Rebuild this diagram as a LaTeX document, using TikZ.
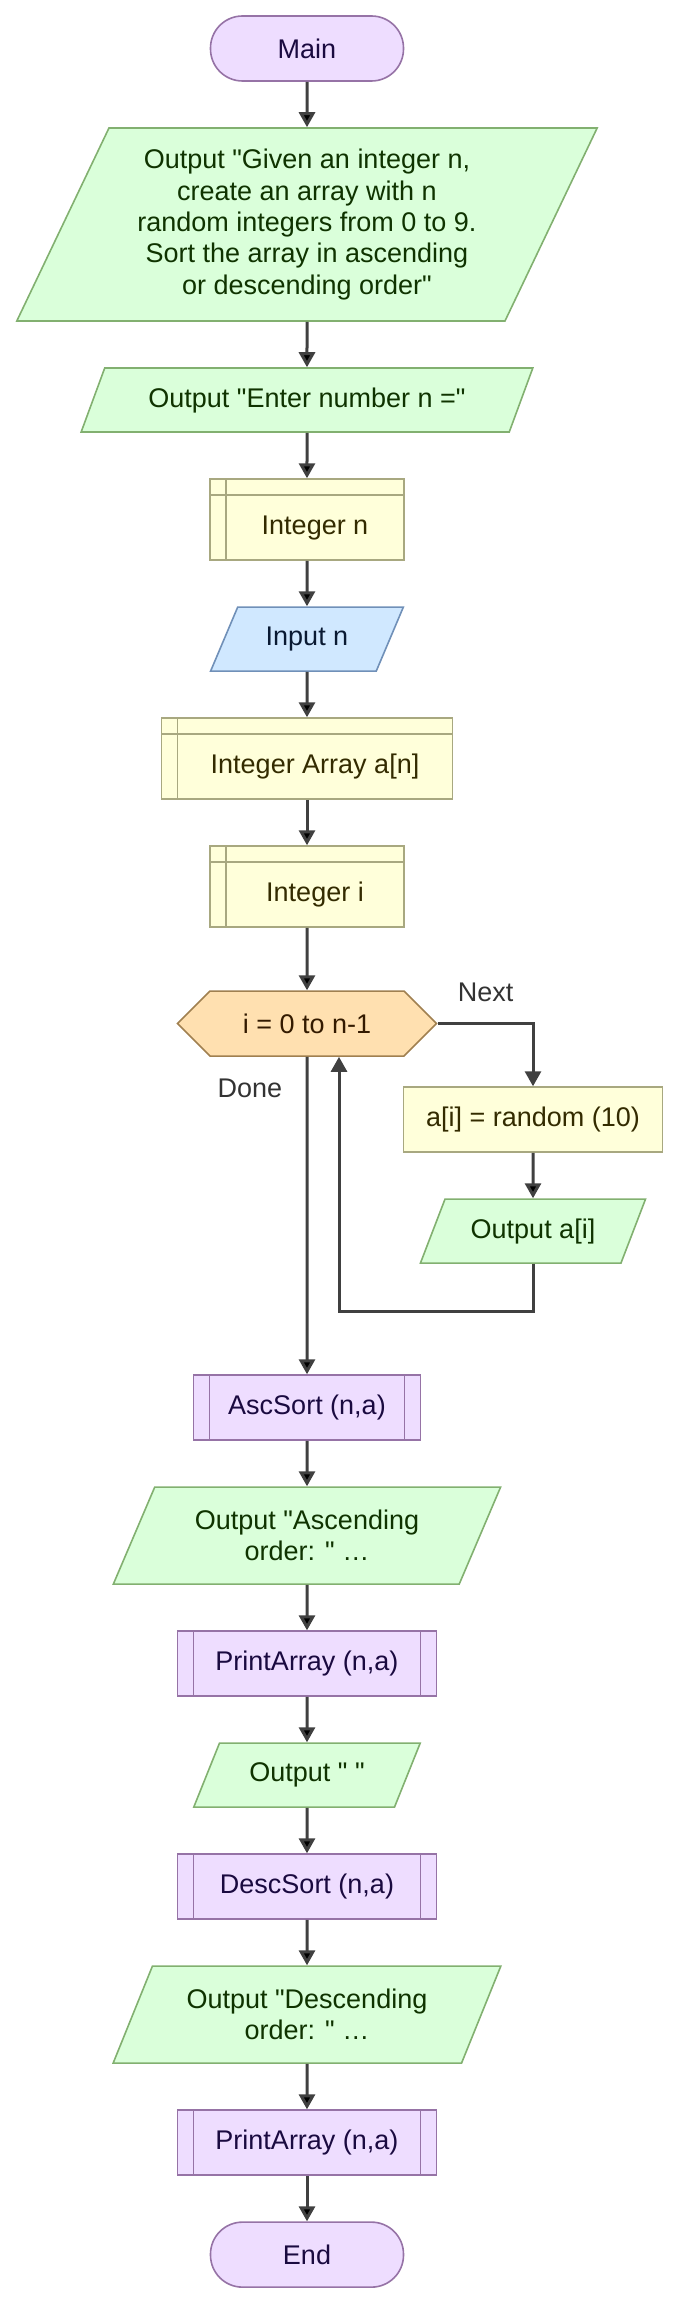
\documentclass[tikz,border=0pt]{standalone}
\usepackage{fontspec}
\setmainfont{Liberation Sans}[Ligatures=TeXOff]
\usetikzlibrary{shapes.geometric,shapes.symbols,arrows.meta,positioning}

\definecolor{termfill}{HTML}{EEDDFF}
\definecolor{termline}{HTML}{9673A6}
\definecolor{termtext}{HTML}{1A0A40}
\definecolor{iofill}{HTML}{DAFFDA}
\definecolor{ioline}{HTML}{82B070}
\definecolor{iotext}{HTML}{0F3300}
\definecolor{infill}{HTML}{D0E8FF}
\definecolor{inline}{HTML}{7090B8}
\definecolor{intext}{HTML}{0A1A33}
\definecolor{declfill}{HTML}{FFFFDA}
\definecolor{declline}{HTML}{A8A880}
\definecolor{decltext}{HTML}{332B00}
\definecolor{loopfill}{HTML}{FFE0B0}
\definecolor{loopline}{HTML}{A08050}
\definecolor{looptext}{HTML}{331A00}
\definecolor{lbltext}{HTML}{333333}
\definecolor{arrowcol}{HTML}{404040}

\begin{document}
\begin{tikzpicture}[>={Triangle[length=7.5pt,width=8pt]},node distance=22.7pt,
    every node/.style={font=\fontsize{13.5}{15.7}\selectfont},
    term/.style={rectangle, rounded corners=16pt, draw=termline, fill=termfill, text=termtext,
      line width=0.8pt, minimum width=96.5pt, minimum height=32.5pt},
    io/.style={trapezium, trapezium left angle=63.43, trapezium right angle=116.57,
      trapezium stretches=true, draw=ioline, fill=iofill, text=iotext, line width=0.8pt,
      minimum height=32pt, align=center},
    inbox/.style={io, draw=inline, fill=infill, text=intext},
    decl/.style={rectangle, draw=declline, fill=declfill, text=decltext, line width=0.8pt,
      minimum height=40.5pt,
      path picture={\draw[declline, line width=0.8pt]
        ([xshift=8pt]path picture bounding box.north west) -- ([xshift=8pt]path picture bounding box.south west)
        ([yshift=-8pt]path picture bounding box.north west) -- ([yshift=-8pt]path picture bounding box.north east);},
      execute at begin node={\hspace*{8pt}\rule{0pt}{18pt}}},
    proc/.style={rectangle, draw=declline, fill=declfill, text=decltext, line width=0.8pt,
      minimum width=129.5pt, minimum height=32.5pt},
    call/.style={rectangle, draw=termline, fill=termfill, text=termtext, line width=0.8pt,
      minimum width=129.5pt, minimum height=32.5pt,
      path picture={\draw[termline, line width=0.8pt]
        ([xshift=8pt]path picture bounding box.north west) -- ([xshift=8pt]path picture bounding box.south west)
        ([xshift=-8pt]path picture bounding box.north east) -- ([xshift=-8pt]path picture bounding box.south east);}},
    loopnode/.style={signal, signal to=west and east, signal pointer angle=90, draw=loopline,
      fill=loopfill, text=looptext, line width=0.8pt, minimum width=129.5pt, minimum height=32.5pt},
    lbl/.style={text=lbltext},
    line/.style={->, draw=arrowcol, line width=1.5pt}]
  \useasboundingbox (0,0) rectangle (336.5pt,-1152.5pt);

  \node[term] (main) at (153.5pt,-24.25pt) {Main};
  \node[io, minimum width=291pt, minimum height=96.5pt] (intro) [below=of main]
    {Output "Given an integer n,\\ create an array with n\\ random integers from 0 to 9.\\
     Sort the array in ascending\\ or descending order"};
  \node[io, minimum width=226pt] (prompt) [below=of intro] {Output "Enter number n ="};
  \node[decl, minimum width=97pt] (decln) [below=of prompt] {Integer n};
  \node[inbox, minimum width=97pt] (readn) [below=of decln] {Input n};
  \node[decl, minimum width=145.5pt] (decla) [below=of readn] {Integer Array a[n]};
  \node[decl, minimum width=97pt] (decli) [below=of decla] {Integer i};
  \node[loopnode] (loop) [below=31.2pt of decli] {i = 0 to n-1};
  \node[proc] (body) at ([xshift=113pt,yshift=-48pt]loop) {a[i] = random (10)};
  \node[io, minimum width=113pt] (outa) [below=of body] {Output a[i]};
  \node[lbl] (next) at ([xshift=24pt,yshift=15.75pt]loop.east) {Next};
  \node[lbl] (done) at ([xshift=-28.5pt,yshift=-15.75pt]loop.south) {Done};

  \node[call, minimum width=113.5pt] (asc) [below=158.7pt of loop] {AscSort (n,a)};
  \node[io, minimum width=194pt, minimum height=48.5pt] (ascout) [below=of asc]
    {Output "Ascending\\ order: " …};
  \node[call] (printa) [below=of ascout] {PrintArray (n,a)};
  \node[io, minimum width=113.5pt] (blank) [below=of printa] {Output " "};
  \node[call] (desc) [below=of blank] {DescSort (n,a)};
  \node[io, minimum width=194pt, minimum height=48.5pt] (descout) [below=of desc]
    {Output "Descending\\ order: " …};
  \node[call] (printd) [below=of descout] {PrintArray (n,a)};
  \node[term] (end) [below=of printd] {End};

  \path[line]
    (main) edge (intro)
    (intro) edge (prompt)
    (prompt) edge (decln)
    (decln) edge (readn)
    (readn) edge (decla)
    (decla) edge (decli)
    (decli) edge (loop)
    (body) edge (outa)
    (loop) edge (asc)
    (asc) edge (ascout)
    (ascout) edge (printa)
    (printa) edge (blank)
    (blank) edge (desc)
    (desc) edge (descout)
    (descout) edge (printd)
    (printd) edge (end)
    ;
  \draw[line] (loop.east) -| (body);
  \draw[line] (outa.south) -- ++(0,-24pt) -| ([xshift=16pt]loop.south);
\end{tikzpicture}
\end{document}
